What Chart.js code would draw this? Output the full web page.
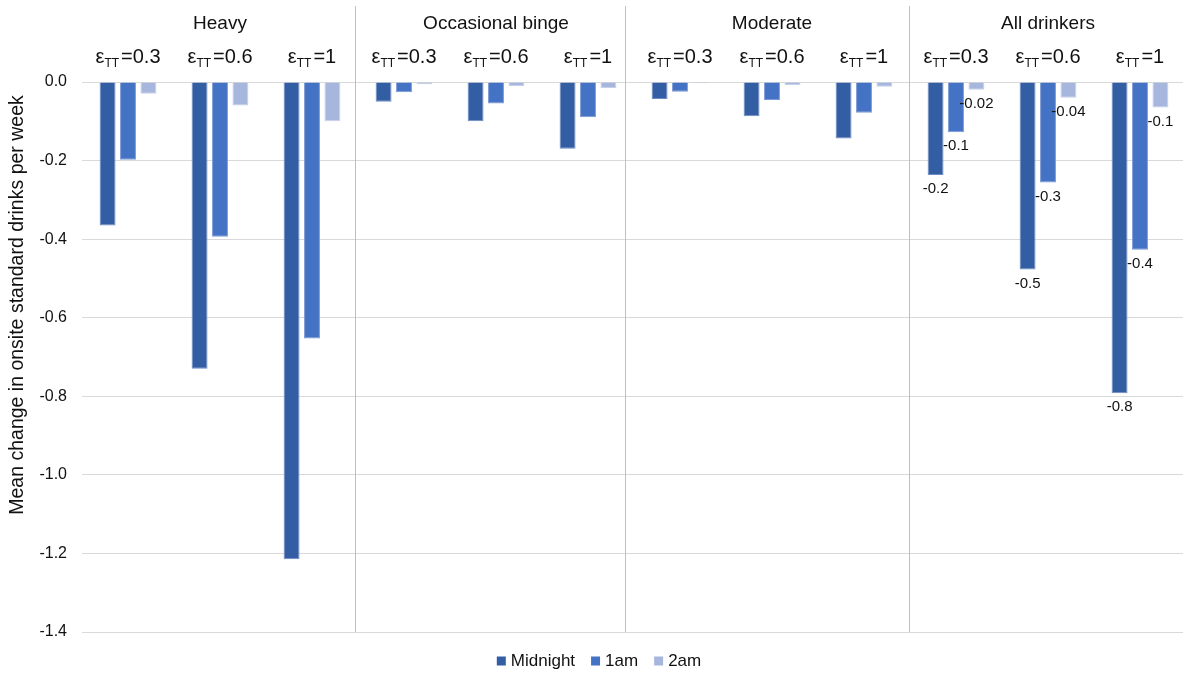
<!DOCTYPE html>
<html lang="en">
  <head>
    <meta charset="UTF-8" />
    <title>Mean change in onsite drinks</title>
    <style>
      body { margin: 0; overflow: hidden; background: #fff; }
      #wrap { width: 1186px; height: 675px; }
    </style>
  </head>
  <body>
    <div id="wrap"><canvas id="myChart"></canvas></div>

    <script src="https://cdn.jsdelivr.net/npm/chart.js"></script>
    <script>
      const groups = ["Heavy", "Occasional binge", "Moderate", "All drinkers"];
      const elasticities = ["0.3", "0.6", "1", "0.3", "0.6", "1", "0.3", "0.6", "1", "0.3", "0.6", "1"];
      const midnight = [-0.365, -0.73, -1.215, -0.05, -0.1, -0.17, -0.043, -0.087, -0.144, -0.237, -0.477, -0.792];
      const oneAm = [-0.198, -0.394, -0.653, -0.026, -0.055, -0.09, -0.025, -0.046, -0.078, -0.128, -0.256, -0.427];
      const twoAm = [-0.03, -0.06, -0.1, -0.006, -0.01, -0.015, -0.003, -0.008, -0.012, -0.02, -0.04, -0.065];
      // value labels only shown for "All drinkers"
      const midnightLabels = [null, null, null, null, null, null, null, null, null, "-0.2", "-0.5", "-0.8"];
      const oneAmLabels = [null, null, null, null, null, null, null, null, null, "-0.1", "-0.3", "-0.4"];
      const twoAmLabels = [null, null, null, null, null, null, null, null, null, "-0.02", "-0.04", "-0.1"];
      const yTicks = [0, -0.2, -0.4, -0.6, -0.8, -1.0, -1.2, -1.4];
      const separators = [2.469, 5.405, 8.494];
      const yTitle = "Mean change in onsite standard drinks per week";

      const FONT = "'Liberation Sans', Arial, sans-serif";

      const topLabels = {
        id: "topLabels",
        afterDraw(chart) {
          const ctx = chart.ctx;
          const x = chart.scales.x;
          const area = chart.chartArea;
          ctx.save();
          // group separators
          ctx.strokeStyle = "#bfbfbf";
          ctx.lineWidth = 1;
          separators.forEach((s) => {
            const px = Math.round(x.getPixelForValue(s)) + 0.5;
            ctx.beginPath();
            ctx.moveTo(px, 6);
            ctx.lineTo(px, area.bottom);
            ctx.stroke();
          });
          ctx.fillStyle = "#111";
          ctx.textBaseline = "alphabetic";
          // group names
          ctx.font = "19px " + FONT;
          ctx.textAlign = "center";
          groups.forEach((g, i) => {
            ctx.fillText(g, x.getPixelForValue(i * 3 + 1), 29);
          });
          // epsilon labels with TT subscript
          ctx.textAlign = "left";
          elasticities.forEach((e, i) => {
            const big = "20px " + FONT;
            const small = "12px " + FONT;
            ctx.font = big;
            const w1 = ctx.measureText("\u03b5").width;
            const w3 = ctx.measureText("=" + e).width;
            ctx.font = small;
            const w2 = ctx.measureText("TT").width + 2;
            let px = x.getPixelForValue(i) - (w1 + w2 + w3) / 2;
            ctx.font = big;
            ctx.fillText("\u03b5", px, 63);
            px += w1;
            ctx.font = small;
            ctx.fillText("TT", px, 67);
            px += w2;
            ctx.font = big;
            ctx.fillText("=" + e, px, 63);
          });

          // y axis title
          ctx.save();
          ctx.translate(18, 305);
          ctx.rotate(-Math.PI / 2);
          ctx.font = "19.5px " + FONT;
          ctx.textAlign = "center";
          ctx.textBaseline = "middle";
          ctx.fillText(yTitle, 0, 0);
          ctx.restore();

          // legend
          ctx.font = "17px " + FONT;
          ctx.textBaseline = "middle";
          ctx.textAlign = "left";
          const items = chart.data.datasets;
          let total = 0;
          items.forEach((d, i) => {
            total += 9 + 5 + ctx.measureText(d.label).width + (i < items.length - 1 ? 16 : 0);
          });
          let lx = 599 - total / 2;
          const ly = 661;
          items.forEach((d) => {
            ctx.fillStyle = d.backgroundColor;
            ctx.fillRect(lx, ly - 4.5, 9, 9);
            lx += 14;
            ctx.fillStyle = "#111";
            ctx.fillText(d.label, lx, ly);
            lx += ctx.measureText(d.label).width + 16;
          });
          ctx.restore();
        },
      };

      const valueLabels = {
        id: "valueLabels",
        afterDatasetsDraw(chart) {
          const ctx = chart.ctx;
          const lists = [midnightLabels, oneAmLabels, twoAmLabels];
          ctx.save();
          ctx.font = "15px " + FONT;
          ctx.fillStyle = "#111";
          ctx.textAlign = "center";
          ctx.textBaseline = "middle";
          lists.forEach((labels, d) => {
            const meta = chart.getDatasetMeta(d);
            labels.forEach((lab, i) => {
              if (lab === null) return;
              const bar = meta.data[i];
              ctx.fillText(lab, bar.x, bar.y + 14);
            });
          });
          ctx.restore();
        },
      };

      const ctx = document.getElementById("myChart");
      const mychart = new Chart(ctx, {
        type: "bar",
        data: {
          labels: elasticities,
          datasets: [
            {
              label: "Midnight",
              data: midnight,
              backgroundColor: "#345ea4",
              borderColor: "#6f8cc4",
              borderWidth: 1,
            },
            {
              label: "1am",
              data: oneAm,
              backgroundColor: "#4472c4",
              borderColor: "#7b99d6",
              borderWidth: 1,
            },
            {
              label: "2am",
              data: twoAm,
              backgroundColor: "#a7b6dd",
              borderColor: "#c6d0ea",
              borderWidth: 1,
            },
          ],
        },
        options: {
          responsive: true,
          maintainAspectRatio: false,
          animation: false,
          layout: { padding: { top: 82, bottom: 43, right: 0 } },
          datasets: {
            bar: { categoryPercentage: 0.666, barPercentage: 0.78 },
          },
          plugins: {
            legend: { display: false },
            tooltip: { enabled: false },
          },
          scales: {
            x: { display: false },
            y: {
              min: -1.4,
              max: 0,
              afterFit(scale) {
                scale.width = 82;
              },
              afterBuildTicks(scale) {
                scale.ticks = yTicks.map((v) => ({ value: v }));
              },
              border: { display: false },
              grid: { color: "#d9d9d9", drawTicks: false },
              ticks: {
                padding: 15,
                color: "#111",
                font: { family: FONT, size: 16 },
                callback: (v) => Number(v).toFixed(1),
              },
            },
          },
        },
        plugins: [topLabels, valueLabels],
      });
    </script>
  </body>
</html>
